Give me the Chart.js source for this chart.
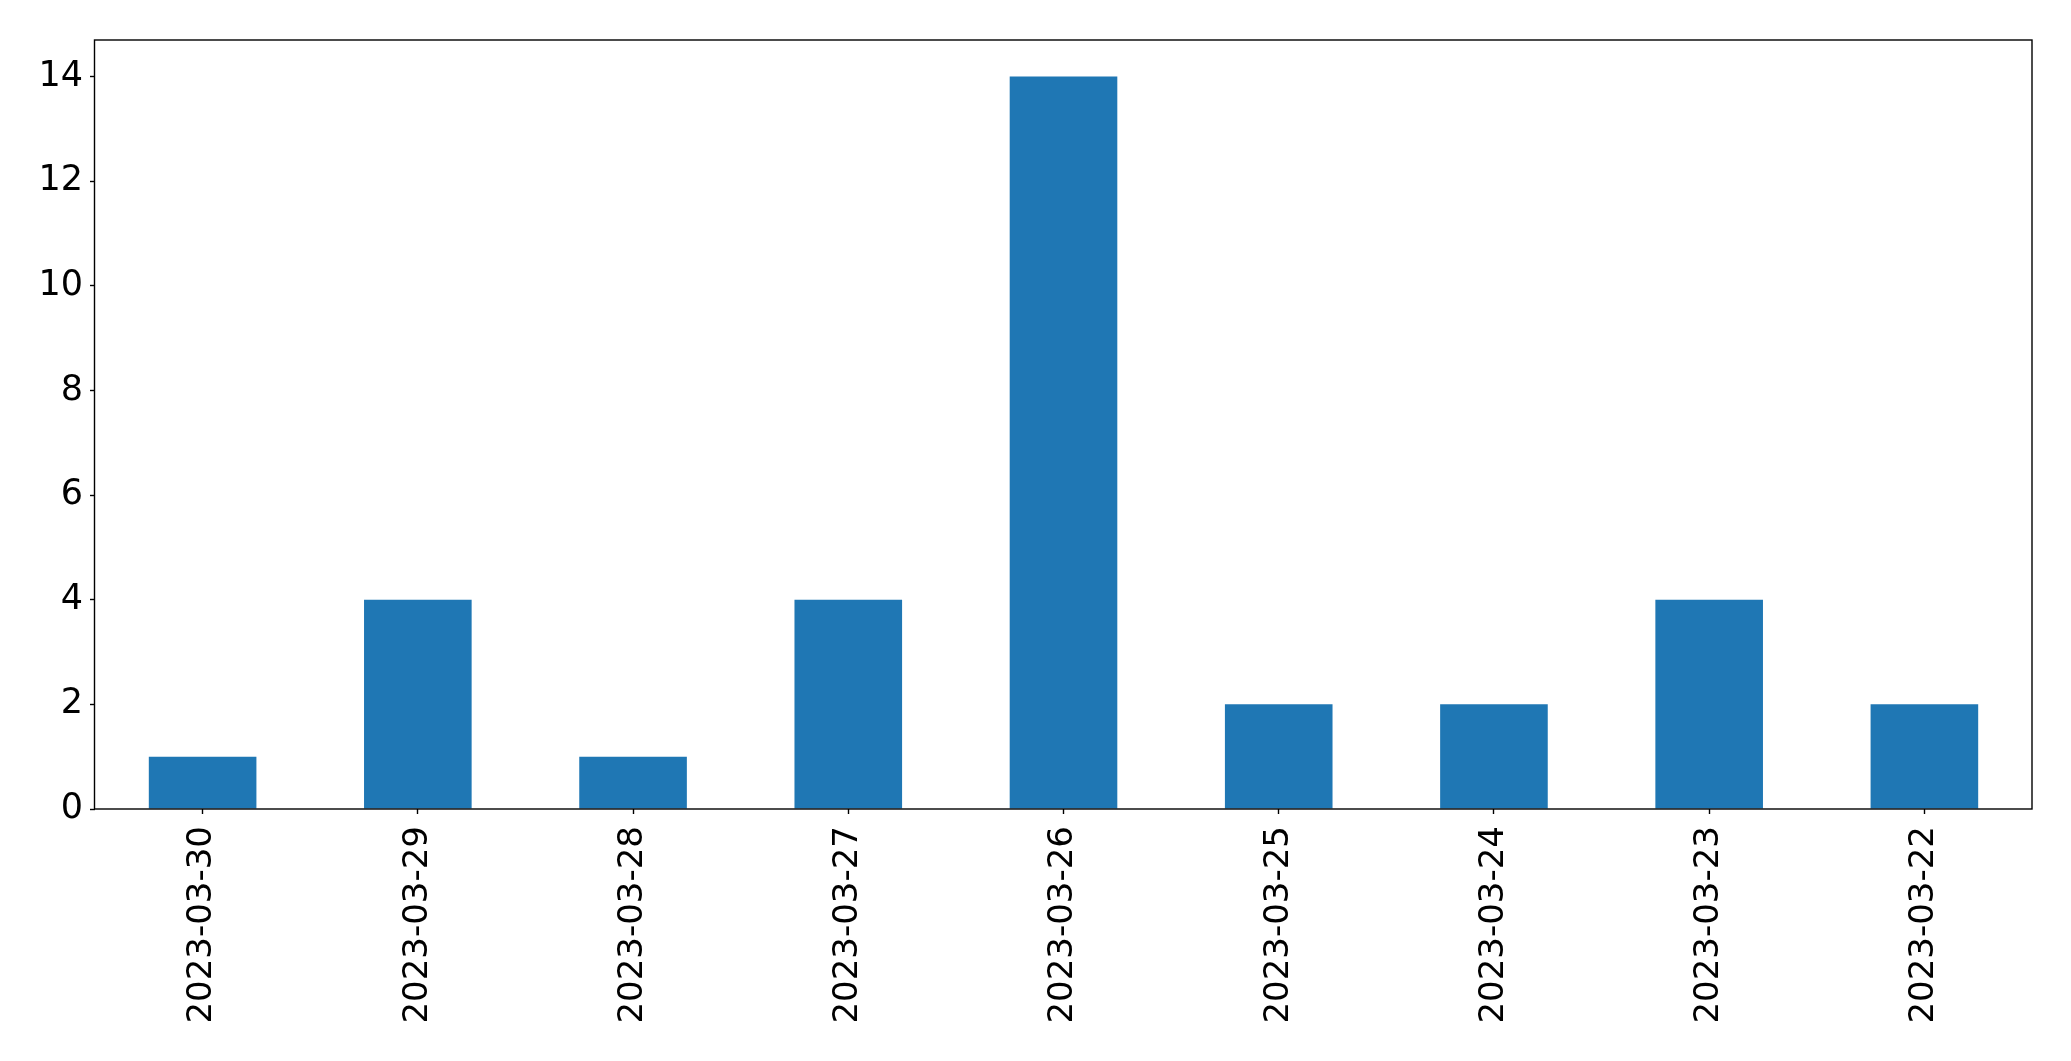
<!DOCTYPE html>
<html>
<head>
<meta charset="utf-8">
<script src="https://cdn.jsdelivr.net/npm/chart.js@4/dist/chart.umd.min.js"></script>
<style>
  body { margin: 0; background: #fff; }
  canvas { display: block; }
</style>
</head>
<body>
<canvas id="barChart" width="2071" height="1061"></canvas>
<script>
// dates as on the x axis (newest first)
const dates = ['2023-03-30', '2023-03-29', '2023-03-28', '2023-03-27', '2023-03-26',
               '2023-03-25', '2023-03-24', '2023-03-23', '2023-03-22'];
const counts = [1, 4, 1, 4, 14, 2, 2, 4, 2];
const yTicks = [0, 2, 4, 6, 8, 10, 12, 14];

// draw the black box round the plot like matplotlib does
const frame = {
    id: 'frame',
    afterDraw(chart) {
        const { ctx, chartArea: a } = chart;
        ctx.save();
        ctx.strokeStyle = '#000';
        ctx.lineWidth = 1.4;
        ctx.strokeRect(a.left - 0.5, a.top, a.right - a.left + 0.5, a.bottom - a.top);
        ctx.restore();
    }
};

const ctx = document.getElementById('barChart').getContext('2d');
const myChart = new Chart(ctx, {
    type: 'bar',
    data: {
        labels: dates,
        datasets: [{
            data: counts,
            backgroundColor: '#1f77b4',
            borderWidth: 0,
            categoryPercentage: 0.5,
            barPercentage: 1.0
        }]
    },
    options: {
        responsive: false,
        animation: false,
        layout: { padding: { top: 40, right: 39, left: 0, bottom: 0 } },
        plugins: {
            legend: { display: false },
            tooltip: { enabled: false }
        },
        scales: {
            x: {
                offset: true,
                border: { display: false },
                grid: { offset: false, drawOnChartArea: false, drawTicks: true, tickLength: 5, color: '#000', tickWidth: 1.4 },
                ticks: {
                    minRotation: 90, maxRotation: 90, autoSkip: false,
                    padding: 12, color: '#000',
                    font: { family: 'DejaVu Sans', size: 34 }
                },
                afterFit(scale) { scale.height = 252; }
            },
            y: {
                min: 0,
                max: 14.7,
                border: { display: false },
                grid: { drawOnChartArea: false, drawTicks: true, tickLength: 5, color: '#000', tickWidth: 1.4 },
                afterBuildTicks(scale) { scale.ticks = yTicks.map(v => ({ value: v })); },
                ticks: {
                    padding: 7, color: '#000',
                    font: { family: 'DejaVu Sans', size: 35 }
                },
                afterFit(scale) { scale.width = 95; }
            }
        }
    },
    plugins: [frame]
});
</script>
</body>
</html>
